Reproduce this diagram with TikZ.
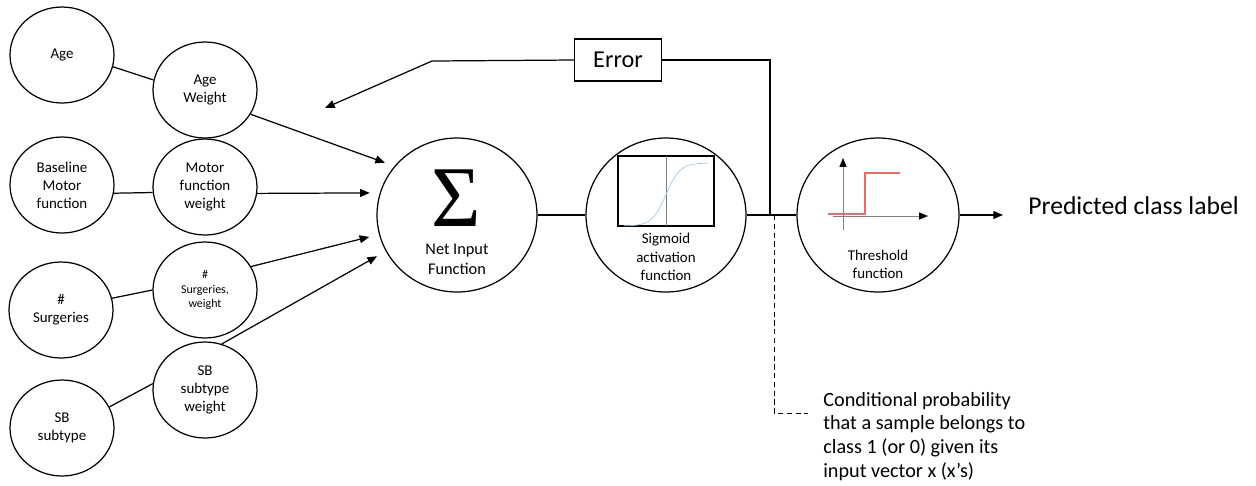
\documentclass[tikz,border=0pt]{standalone}
\usepackage{fontspec}
\setmainfont{Carlito}
\newfontfamily\sigmafont{Liberation Serif}
\usetikzlibrary{shapes.geometric}
\usetikzlibrary{arrows.meta}
\definecolor{sigblue}{RGB}{165,200,235}
\definecolor{stepred}{RGB}{240,105,105}
\newcommand{\fsize}[2]{\fontsize{#1}{#2}\selectfont}

\begin{document}
\begin{tikzpicture}[x=0.02cm,y=-0.02cm,>={Triangle[length=5.5pt,width=4.5pt]},
    incircle/.style={draw,ellipse,line width=0.7pt,minimum width=2.08cm,minimum height=1.92cm,
                     inner sep=0pt,align=center,font=\fsize{8.5}{10.2}},
    bigcircle/.style={draw,ellipse,line width=0.7pt,minimum width=3.2cm,minimum height=3.08cm},
    wire/.style={line width=0.7pt},
    feed/.style={wire,->,shorten >=0.2cm},
    caption/.style={align=center,font=\fsize{8.5}{10.4}}]
    \useasboundingbox (0,0) rectangle (1256,485);
    % inputs
    \node[incircle] (age)  at (62,55)  {Age};
    \node[incircle] (base) at (62,185) {Baseline\\Motor\\function};
    \node[incircle] (surg) at (61,310) {\#\\Surgeries};
    \node[incircle] (sb)   at (62,428) {SB\\subtype};
    % weights
    \node[incircle] (agew)   at (205,90)  {Age\\Weight};
    \node[incircle] (motorw) at (205,187) {Motor\\function\\weight};
    \node[incircle,font=\fsize{6.8}{8.5}] (surgw) at (205,290) {\#\\Surgeries,\\weight};
    \node[incircle] (sbw)    at (205,390) {SB\\subtype\\weight};
    \draw[wire] (age.-13) -- (agew.169);
    \draw[wire] (base.-9) -- (motorw.186);
    \draw[wire] (surg.13) -- (surgw.180);
    \draw[wire] (sb.24) -- (sbw.173);
    % net input
    \node[bigcircle] (sum) at (457,215) {};
    \node[inner sep=0pt] (sigma) at (456,198) {\scalebox{1.1}[1.12]{\sigmafont\fsize{44}{44}Σ}};
    \node[caption,inner sep=0pt,font=\fsize{9.3}{11.3}] (sumlabel) at (457,259) {Net Input\\Function};
    \draw[feed] (agew.-28) -- (sum.142);
    \draw[feed] (motorw.-7) -- (sum.164);
    \draw[feed] (surgw.27) -- (sum.194);
    \draw[feed] (sbw.70) -- (sum.207);
    % sigmoid
    \node[bigcircle] (sig) at (666,215) {};
    \draw[line width=0.9pt] (618,156) rectangle (714,226);
    \draw[gray] (666,156) -- (666,226);
    \draw[sigblue] plot[domain=-1:1,samples=40] ({666+42*\x},{194.5-31.5*tanh(3*\x)});
    \node[caption] (siglabel) at (666,257) {Sigmoid\\activation\\function};
    % threshold
    \node[bigcircle,minimum width=3.24cm] (thr) at (878,215) {};
    \draw[gray,-{Triangle[length=5pt,width=4pt,color=black]}] (843,230) -- (843,158);
    \draw[gray,-{Triangle[length=5pt,width=4pt,color=black]}] (833,216) -- (928,216);
    \draw[stepred,line width=0.6pt] (828,214) -- (865,214) -- (865,173) -- (900,173);
    \node[caption] (thrlabel) at (878,264) {Threshold\\function};
    % main line and output
    \coordinate (split) at (770,215);
    \coordinate (tap) at (774,215);
    \coordinate (outtip) at (1003,215);
    \draw[wire] (sum.east) -- (sig.west);
    \draw[wire] (sig.east) -- (thr.west);
    \draw[wire,->] (thr.east) -- (outtip);
    \node[anchor=base west,inner sep=0pt,font=\fsize{14.6}{17}] (pred) at (1028,214) {Predicted class label};
    % error feedback
    \node[draw,line width=0.7pt,minimum width=1.74cm,minimum height=0.84cm,font=\fsize{13.8}{16}] (err) at (618,60) {Error};
    \coordinate (bend) at (432,61);
    \coordinate (fbtip) at (325,108);
    \draw[wire] (err.east) -| (split);
    \draw[wire,->] (err.west) -- (bend) -- (fbtip);
    % probability note
    \coordinate (notecorner) at (774,413);
    \coordinate (noteend) at (808,413);
    \draw[densely dashed] (tap) -- (notecorner) -- (noteend);
    \node[anchor=north west,align=left,inner sep=0pt,font=\fsize{11.5}{13.4}] (note) at (823,392)
        {Conditional probability\\that a sample belongs to\\class 1 (or 0) given its\\input vector x (x’s)};
\end{tikzpicture}
\end{document}
